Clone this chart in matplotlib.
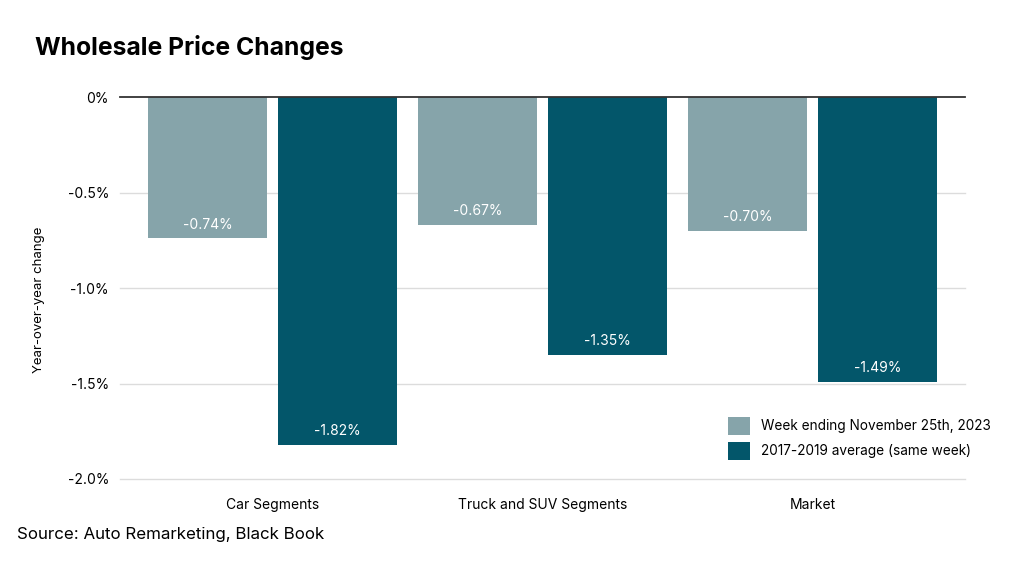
import matplotlib.pyplot as plt
import numpy as np

plt.rcParams['font.family'] = ['Inter', 'DejaVu Sans']

categories = ["Car Segments", "Truck and SUV Segments", "Market"]
week_values = [-0.74, -0.67, -0.70]
avg_values = [-1.82, -1.35, -1.49]
series_names = ["Week ending November 25th, 2023", "2017-2019 average (same week)"]
yticks = [0, -0.5, -1.0, -1.5, -2.0]
ytick_labels = ["0%", "-0.5%", "-1.0%", "-1.5%", "-2.0%"]

light = "#86a4aa"
dark = "#03566a"

fig = plt.figure(figsize=(10.24, 5.65), dpi=100)
ax = fig.add_axes([120 / 1024, 1 - 479 / 565, 845 / 1024, 382 / 565])

x = np.arange(len(categories))
w = 0.44
off = 0.2407
b1 = ax.bar(x - off, week_values, w, color=light, label=series_names[0], zorder=3)
b2 = ax.bar(x + off, avg_values, w, color=dark, label=series_names[1], zorder=3)

# value labels near the end of each bar
for bars, vals in [(b1, week_values), (b2, avg_values)]:
    for r, v in zip(bars, vals):
        ax.text(r.get_x() + r.get_width() / 2, v + 0.072, f"{v:.2f}%",
                ha="center", va="center", color="white", fontsize=10, zorder=4)

ax.set_xlim(-0.565, 2.565)
ax.set_ylim(-2.0, 0)
for t in yticks[1:]:
    ax.axhline(t, color="#dcdcdc", lw=1, zorder=1, clip_on=False)
ax.axhline(0, color="#333333", lw=1.3, zorder=5, clip_on=False)

ax.set_yticks(yticks)
ax.set_yticklabels(ytick_labels)
ax.set_xticks(x)
ax.set_xticklabels(categories)
ax.tick_params(axis="y", length=0, pad=8, labelsize=10)
ax.tick_params(axis="x", length=0, pad=14, labelsize=10)
for s in ax.spines.values():
    s.set_visible(False)

ax.set_ylabel("Year-over-year change", fontsize=9.5)
ax.yaxis.set_label_coords(-0.089, 0.47)

fig.text(35 / 1024, 1 - 47 / 565, "Wholesale Price Changes", fontsize=17.8,
         fontweight="bold", va="center", ha="left")
fig.text(17 / 1024, 1 - 535 / 565, "Source: Auto Remarketing, Black Book",
         fontsize=12.2, va="center", ha="left")

ax.legend(loc="upper left", bbox_to_anchor=(728 / 1024, 1 - 417 / 565),
          bbox_transform=fig.transFigure, frameon=False, fontsize=9.8,
          handlelength=1.65, handleheight=1.65, handletextpad=0.8,
          labelspacing=0.5, borderpad=0, borderaxespad=0)

fig.savefig("out.png", dpi=100)
